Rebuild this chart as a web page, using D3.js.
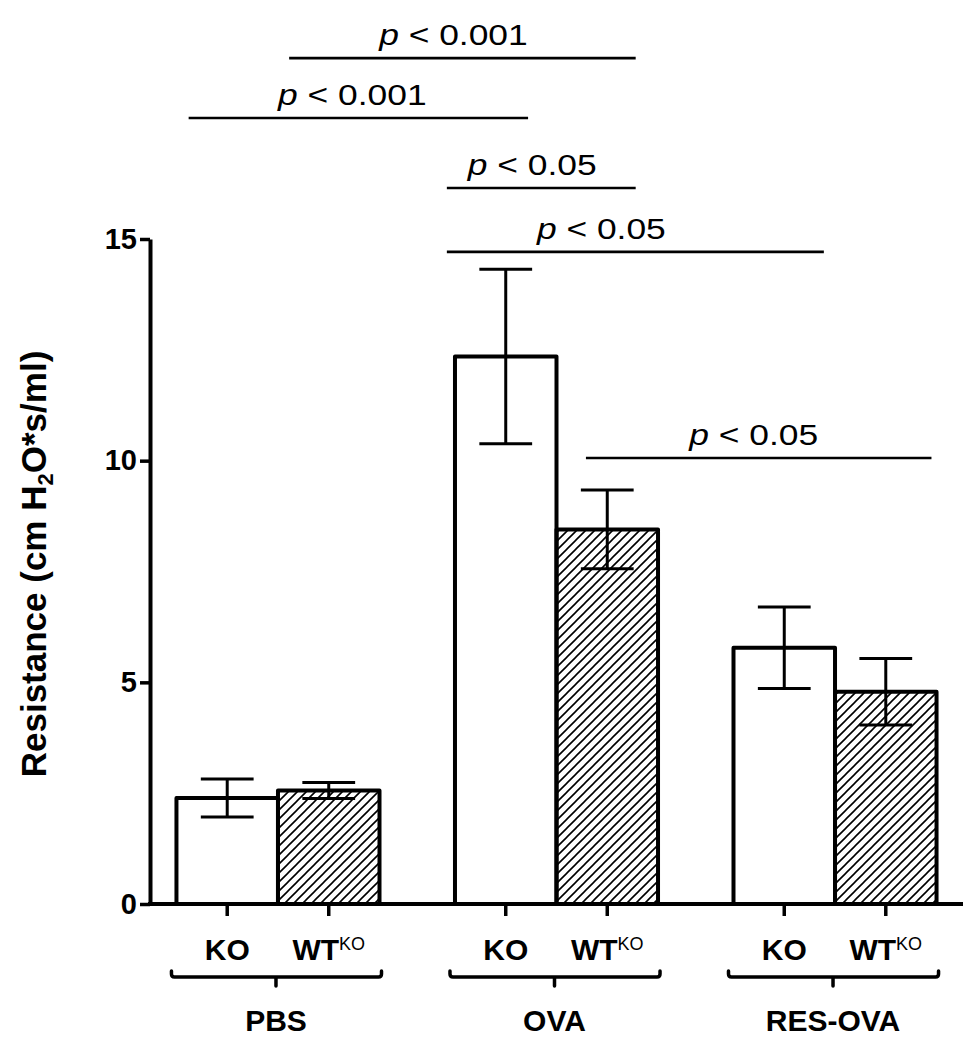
<!DOCTYPE html>
<html>
<head>
<meta charset="utf-8">
<script src="https://cdn.jsdelivr.net/npm/d3@7"></script>
<style>
  body { margin: 0; background: #fff; }
  svg { display: block; }
</style>
</head>
<body>
<div id="chart"></div>
<script>
// Airway resistance, KO vs WT(KO) mice, per treatment group (mean +/- SEM)
const groups = ['PBS', 'OVA', 'RES-OVA'];
const genotypes = ['KO', 'WT'];
const koMeans = [2.39, 12.35, 5.78];
const koSem = [0.43, 1.97, 0.92];
const wtMeans = [2.56, 8.45, 4.79];
const wtSem = [0.18, 0.89, 0.75];
const yTicks = [0, 5, 10, 15];

// significance bars: compared bars, height on the value axis, p text
const comparisons = [
  { a: ['PBS', 'WT'], b: ['OVA', 'WT'], level: 19.08, p: '< 0.001' },
  { a: ['PBS', 'KO'], b: ['OVA', 'KO'], level: 17.73, p: '< 0.001' },
  { a: ['OVA', 'KO'], b: ['OVA', 'WT'], level: 16.15, p: '< 0.05' },
  { a: ['OVA', 'KO'], b: ['RES-OVA', 'KO'], level: 14.71, p: '< 0.05' },
  { a: ['OVA', 'WT'], b: ['RES-OVA', 'WT'], level: 10.06, p: '< 0.05' }
];

const width = 975, height = 1050;
const font = 'Arial, "Liberation Sans", Helvetica, sans-serif';

const svg = d3.select('#chart')
  .append('svg')
  .attr('width', width)
  .attr('height', height)
  .style('font-family', font);

// scales
const y = d3.scaleLinear().domain([0, 15]).range([904, 239]);

const xGroup = d3.scaleBand()
  .domain(groups)
  .range([150, 963])
  .paddingInner(0.271)
  .paddingOuter(0.095);

const xGeno = d3.scaleBand()
  .domain(genotypes)
  .range([0, xGroup.bandwidth()])
  .padding(0);

const barX = (g, k) => xGroup(g) + xGeno(k);
const bw = xGeno.bandwidth();

// flat rows for bars
const rows = [];
groups.forEach((g, i) => {
  rows.push({ group: g, geno: 'KO', mean: koMeans[i], sem: koSem[i] });
  rows.push({ group: g, geno: 'WT', mean: wtMeans[i], sem: wtSem[i] });
});

// hatch pattern for WT bars
const defs = svg.append('defs');
defs.append('pattern')
  .attr('id', 'hatch')
  .attr('patternUnits', 'userSpaceOnUse')
  .attr('width', 9)
  .attr('height', 9)
  .append('path')
  .attr('d', 'M-1,1 l2,-2 M0,9 l9,-9 M8,10 l2,-2')
  .attr('stroke', '#000')
  .attr('stroke-width', 1.6);

// bars
svg.selectAll('.bar')
  .data(rows)
  .enter()
  .append('rect')
  .attr('class', 'bar')
  .attr('x', d => barX(d.group, d.geno))
  .attr('y', d => y(d.mean))
  .attr('width', bw)
  .attr('height', d => y(0) - y(d.mean))
  .attr('fill', d => d.geno === 'WT' ? 'url(#hatch)' : '#fff')
  .attr('stroke', '#000')
  .attr('stroke-width', 4)
  .attr('stroke-linejoin', 'round');

// error bars
const capW = bw * 0.52;
const err = svg.selectAll('.err')
  .data(rows)
  .enter()
  .append('g')
  .attr('class', 'err')
  .attr('stroke', '#000')
  .attr('stroke-width', 3);

err.append('line')
  .attr('x1', d => barX(d.group, d.geno) + bw / 2)
  .attr('x2', d => barX(d.group, d.geno) + bw / 2)
  .attr('y1', d => y(d.mean - d.sem))
  .attr('y2', d => y(d.mean + d.sem));

[-1, 1].forEach(s => {
  err.append('line')
    .attr('x1', d => barX(d.group, d.geno) + bw / 2 - capW / 2)
    .attr('x2', d => barX(d.group, d.geno) + bw / 2 + capW / 2)
    .attr('y1', d => y(d.mean + s * d.sem))
    .attr('y2', d => y(d.mean + s * d.sem));
});

// y axis
const yAxis = svg.append('g')
  .attr('transform', `translate(${xGroup.range()[0]},0)`)
  .call(d3.axisLeft(y).tickValues(yTicks).tickSize(10).tickSizeOuter(0).tickPadding(3));

yAxis.select('.domain')
  .attr('stroke-width', 4);
yAxis.selectAll('.tick line')
  .attr('stroke-width', 3.5);
yAxis.selectAll('.tick text')
  .attr('font-family', font)
  .attr('font-size', 29)
  .attr('font-weight', 'bold')
  .attr('fill', '#000');

// x axis line
svg.append('line')
  .attr('x1', xGroup.range()[0] - 2)
  .attr('x2', xGroup.range()[1])
  .attr('y1', y(0))
  .attr('y2', y(0))
  .attr('stroke', '#000')
  .attr('stroke-width', 4);

// x ticks under each bar
svg.selectAll('.xtick')
  .data(rows)
  .enter()
  .append('line')
  .attr('class', 'xtick')
  .attr('x1', d => barX(d.group, d.geno) + bw / 2)
  .attr('x2', d => barX(d.group, d.geno) + bw / 2)
  .attr('y1', y(0))
  .attr('y2', y(0) + 12)
  .attr('stroke', '#000')
  .attr('stroke-width', 3.5);

// genotype labels
const genoLabel = svg.selectAll('.geno')
  .data(rows)
  .enter()
  .append('text')
  .attr('class', 'geno')
  .attr('x', d => barX(d.group, d.geno) + bw / 2)
  .attr('y', 960)
  .attr('text-anchor', 'middle')
  .attr('font-size', 30)
  .attr('font-weight', 'bold');

genoLabel.append('tspan')
  .text(d => d.geno);
genoLabel.filter(d => d.geno === 'WT')
  .append('tspan')
  .attr('dy', -10)
  .attr('font-size', 18)
  .attr('font-weight', 'normal')
  .text('KO');

// braces under each group
svg.selectAll('.brace')
  .data(groups)
  .enter()
  .append('path')
  .attr('class', 'brace')
  .attr('d', g => {
    const x0 = xGroup(g) - 5, x1 = xGroup(g) + xGroup.bandwidth() + 2;
    const xc = xGroup(g) + xGroup.bandwidth() / 2 - 2;
    const yb = 977;
    return `M${x0},${yb - 6} L${x0},${yb - 3} Q${x0},${yb} ${x0 + 3},${yb} L${x1 - 3},${yb} ` +
      `Q${x1},${yb} ${x1},${yb - 3} L${x1},${yb - 6} M${xc},${yb} L${xc},${yb + 9}`;
  })
  .attr('fill', 'none')
  .attr('stroke', '#000')
  .attr('stroke-width', 3.5)
  .attr('stroke-linecap', 'round');

// group labels
svg.selectAll('.grp')
  .data(groups)
  .enter()
  .append('text')
  .attr('class', 'grp')
  .attr('x', g => xGroup(g) + xGroup.bandwidth() / 2 - 2)
  .attr('y', 1031)
  .attr('text-anchor', 'middle')
  .attr('font-size', 30)
  .attr('font-weight', 'bold')
  .text(g => g);

// y axis title
const yTitle = svg.append('text')
  .attr('transform', 'translate(46,564) rotate(-90)')
  .attr('text-anchor', 'middle')
  .attr('font-size', 35)
  .attr('font-weight', 'bold');
yTitle.append('tspan').text('Resistance (cm H');
yTitle.append('tspan').attr('dy', 7).attr('font-size', 22).text('2');
yTitle.append('tspan').attr('dy', -7).text('O*s/ml)');

// significance bars (end insets as fraction of bar width, label nudges in px)
const insets = [[0.11, 0.78], [0.12, 0.72], [-0.08, 0.78], [-0.08, 0.89], [0.29, 0.95]];
const labelDx = [-9, -6, -9, -34, -5];

comparisons.forEach((c, i) => {
  const x1 = barX(c.a[0], c.a[1]) + insets[i][0] * bw;
  const x2 = barX(c.b[0], c.b[1]) + insets[i][1] * bw;
  const yy = y(c.level);

  svg.append('line')
    .attr('x1', x1)
    .attr('x2', x2)
    .attr('y1', yy)
    .attr('y2', yy)
    .attr('stroke', '#000')
    .attr('stroke-width', 2.6);

  const t = svg.append('g')
    .attr('transform', `translate(${(x1 + x2) / 2 + labelDx[i]},${yy - 13}) scale(1.18,1)`)
    .append('text')
    .attr('text-anchor', 'middle')
    .attr('font-size', 30);
  t.append('tspan').attr('font-style', 'italic').text('p');
  t.append('tspan').text(' ' + c.p);
});
</script>
</body>
</html>
